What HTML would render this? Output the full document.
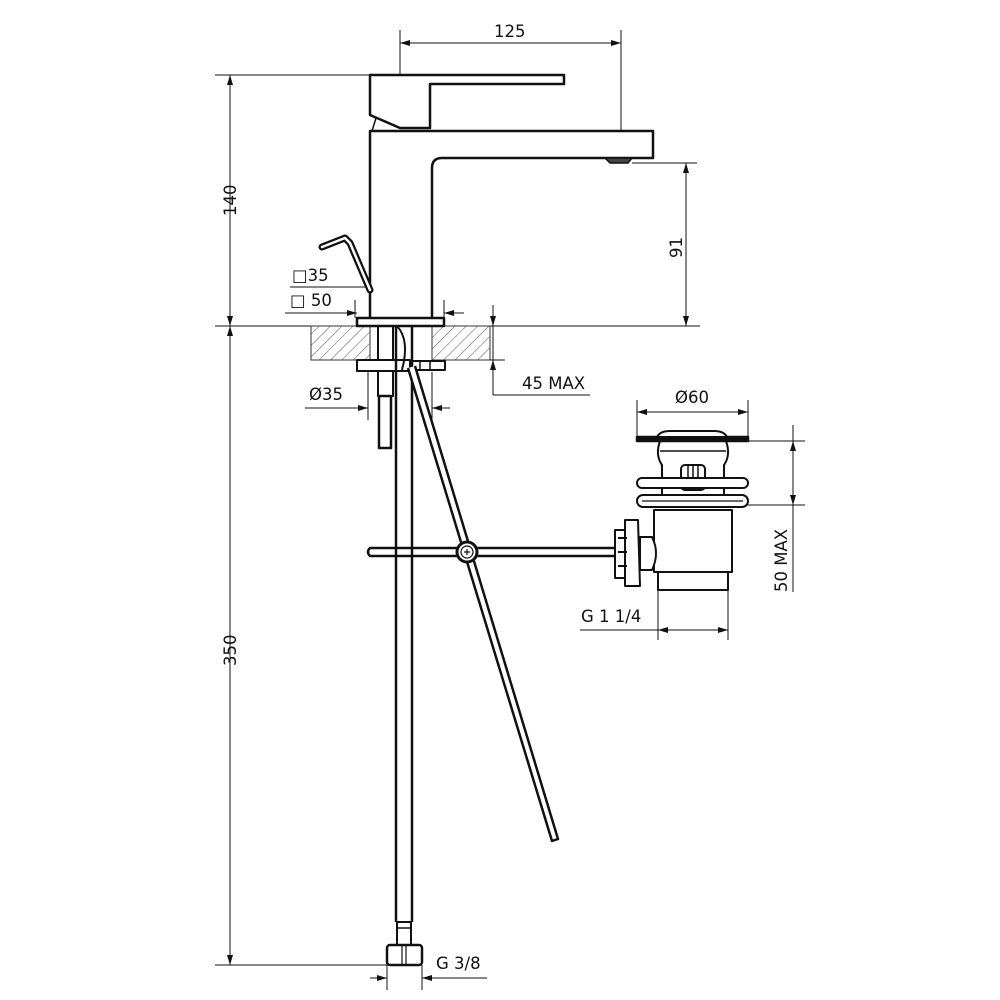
<!DOCTYPE html>
<html><head><meta charset="utf-8"><style>body{margin:0;background:#fff}svg{display:block}text{font-family:"DejaVu Sans","Liberation Sans",sans-serif;font-size:16.5px;fill:#111}</style></head><body>
<svg width="1000" height="1000" viewBox="0 0 1000 1000" xmlns="http://www.w3.org/2000/svg">
<defs>
<marker id="a" viewBox="0 0 10 6" refX="10" refY="3" markerWidth="10" markerHeight="6" orient="auto-start-reverse" markerUnits="userSpaceOnUse"><path d="M0,0 L10,3 L0,6z" fill="#111"/></marker>
<pattern id="h" width="8" height="8" patternUnits="userSpaceOnUse" patternTransform="rotate(45)"><line x1="0" y1="0" x2="0" y2="8" stroke="#555" stroke-width="1"/></pattern>
</defs>
<g fill="none" stroke="#111" stroke-width="1">
<line x1="400" y1="30" x2="400" y2="128"/><line x1="621" y1="30" x2="621" y2="156"/>
<line x1="215" y1="75" x2="372" y2="75"/>
<line x1="215" y1="326" x2="700" y2="326"/>
<line x1="215" y1="965" x2="388" y2="965"/>
<line x1="632" y1="163" x2="697" y2="163"/>
<line x1="290" y1="287" x2="370" y2="287"/>
<line x1="285" y1="313" x2="357" y2="313"/><line x1="444" y1="313" x2="464" y2="313"/>
<line x1="355" y1="300" x2="355" y2="318"/><line x1="444" y1="300" x2="444" y2="318"/>
<line x1="493" y1="305" x2="493" y2="395"/><line x1="493" y1="395" x2="590" y2="395"/>
<line x1="490" y1="360" x2="505" y2="360"/>
<line x1="305" y1="408" x2="368" y2="408"/><line x1="432" y1="408" x2="450" y2="408"/>
<line x1="368" y1="372" x2="368" y2="420"/><line x1="432" y1="372" x2="432" y2="420"/>
<line x1="637" y1="400" x2="637" y2="437"/><line x1="748" y1="400" x2="748" y2="437"/>
<line x1="748" y1="441" x2="805" y2="441"/><line x1="735" y1="505" x2="805" y2="505"/>
<line x1="793" y1="425" x2="793" y2="441"/><line x1="793" y1="505" x2="793" y2="592"/>
<line x1="580" y1="630" x2="658" y2="630"/>
<line x1="658" y1="590" x2="658" y2="640"/><line x1="728" y1="590" x2="728" y2="640"/>
<line x1="372" y1="978" x2="387" y2="978"/><line x1="422" y1="978" x2="487" y2="978"/>
<line x1="387" y1="965" x2="387" y2="990"/><line x1="422" y1="965" x2="422" y2="990"/>
<line x1="400" y1="43" x2="621" y2="43" marker-start="url(#a)" marker-end="url(#a)"/>
<line x1="230" y1="75" x2="230" y2="326" marker-start="url(#a)" marker-end="url(#a)"/>
<line x1="230" y1="326" x2="230" y2="965" marker-start="url(#a)" marker-end="url(#a)"/>
<line x1="686" y1="163" x2="686" y2="326" marker-start="url(#a)" marker-end="url(#a)"/>
<line x1="370" y1="287" x2="432" y2="287" marker-start="url(#a)" marker-end="url(#a)"/>
<line x1="340" y1="313" x2="357" y2="313" marker-end="url(#a)"/><line x1="461" y1="313" x2="444" y2="313" marker-end="url(#a)"/>
<line x1="493" y1="306" x2="493" y2="326" marker-end="url(#a)"/><line x1="493" y1="380" x2="493" y2="360" marker-end="url(#a)"/>
<line x1="350" y1="408" x2="368" y2="408" marker-end="url(#a)"/><line x1="450" y1="408" x2="432" y2="408" marker-end="url(#a)"/>
<line x1="637" y1="412" x2="748" y2="412" marker-start="url(#a)" marker-end="url(#a)"/>
<line x1="793" y1="441" x2="793" y2="505" marker-start="url(#a)" marker-end="url(#a)"/>
<line x1="658" y1="630" x2="728" y2="630" marker-start="url(#a)" marker-end="url(#a)"/>
<line x1="370" y1="978" x2="387" y2="978" marker-end="url(#a)"/><line x1="440" y1="978" x2="422" y2="978" marker-end="url(#a)"/>
</g>
<rect x="311" y="326" width="59" height="34" fill="url(#h)" stroke="#333"/>
<rect x="432" y="326" width="58" height="34" fill="url(#h)" stroke="#333"/>
<g fill="#fff" stroke="#111" stroke-width="2.5" stroke-linejoin="round">
<path d="M370,75 L564,75 L564,84 L430,84 L430,128 L400,128 L370,115 Z"/>
<path d="M376,118 L372,131" stroke-width="1.5"/>
<path d="M370,318 L370,131 L653,131 L653,158 L442,158 Q432,158 432,168 L432,318"/>
<path d="M605,158 L632,158 L628,163 L610,163 Z" fill="#444" stroke-width="1.5"/>
<path d="M322,247 L345,238 L350,243 L370,290" stroke-width="7" stroke-linecap="round" fill="none"/>
<path d="M322,247 L345,238 L350,243 L370,290" stroke="#fff" stroke-width="2.5" stroke-linecap="round" fill="none"/>
<rect x="357" y="318" width="87" height="8"/>
<rect x="357" y="360" width="53" height="11" stroke-width="2"/>
<rect x="410" y="361" width="35" height="9" stroke-width="2"/>
<line x1="420" y1="361" x2="420" y2="370" stroke-width="1.5"/>
<line x1="430" y1="361" x2="430" y2="370" stroke-width="1.5"/>
<rect x="378" y="371" width="15" height="25" stroke-width="2"/>
<rect x="379" y="396" width="12" height="52" stroke-width="2.5"/>
<line x1="378" y1="326" x2="378" y2="360" stroke-width="2"/><line x1="393" y1="326" x2="393" y2="360" stroke-width="2"/>
<line x1="396" y1="326" x2="396" y2="922" stroke-width="2.5"/>
<line x1="412" y1="326" x2="412" y2="922" stroke-width="2.5"/>
<path d="M397,326 Q410,340 402,370" stroke-width="2" fill="none"/>
<path d="M408,368 L552,841 L558,839 L415,366" stroke-width="2.5"/>
<path d="M615,548 L370,548 Q366,552 370,556 L615,556" stroke-width="2.5"/>
<line x1="396" y1="548" x2="396" y2="556" stroke-width="2.5"/><line x1="412" y1="548" x2="412" y2="556" stroke-width="2.5"/>
<circle cx="467" cy="552" r="10" stroke-width="3"/>
<circle cx="467" cy="552" r="6" stroke-width="1.2"/>
<path d="M464,552 h6 M467,549 v6" stroke-width="1.2"/>
<rect x="397" y="922" width="14" height="23" stroke-width="2"/>
<line x1="397" y1="928" x2="411" y2="928" stroke-width="1.5"/>
<rect x="387" y="945" width="35" height="20" rx="3" stroke-width="2.5"/>
<line x1="402" y1="945" x2="402" y2="965" stroke-width="1.2"/><line x1="406" y1="945" x2="406" y2="965" stroke-width="1.2"/>
<rect x="658" y="572" width="70" height="18" stroke-width="2"/>
<rect x="654" y="510" width="78" height="62" stroke-width="2"/>
<path d="M640,537 L652,537 Q660,553 652,570 L640,570 Z" stroke-width="2"/>
<path d="M625,520 L638,520 L640,586 L625,586 Z" stroke-width="2"/>
<path d="M615,530 L625,530 L625,578 L615,578 Z" stroke-width="2"/>
<path d="M618,538 h9 M618,552 h9 M618,566 h9" stroke-width="2"/>
<path d="M660,441 Q655,455 662,465 L662,500 L724,500 L724,465 Q731,455 726,441 Z" stroke-width="2"/>
<line x1="660" y1="451" x2="726" y2="451" stroke-width="1.5"/>
<rect x="681" y="465" width="24" height="25" rx="4" stroke-width="2"/>
<path d="M688,465 v25 M693,465 v25 M698,465 v25" stroke-width="1.5"/>
<rect x="637" y="478" width="111" height="10" rx="5" stroke-width="2"/>
<rect x="637" y="495" width="111" height="12" rx="6" stroke-width="2"/>
<line x1="642" y1="501" x2="743" y2="501" stroke-width="1.2"/>
<rect x="637" y="437" width="111" height="4" fill="#111"/>
<path d="M657,437 Q660,431 670,431 L714,431 Q724,431 727,437 Z" stroke-width="2"/>
</g>
<text x="494" y="37">125</text>
<text transform="translate(236,216) rotate(-90)">140</text>
<text transform="translate(236,666) rotate(-90)">350</text>
<text transform="translate(682,258) rotate(-90)">91</text>
<text x="292" y="281">□35</text>
<text x="290" y="306">□ 50</text>
<text x="522" y="389">45 MAX</text>
<text x="309" y="400">Ø35</text>
<text x="675" y="403">Ø60</text>
<text transform="translate(787,592) rotate(-90)">50 MAX</text>
<text x="581" y="622">G 1 1/4</text>
<text x="436" y="969">G 3/8</text>
</svg>
</body></html>
